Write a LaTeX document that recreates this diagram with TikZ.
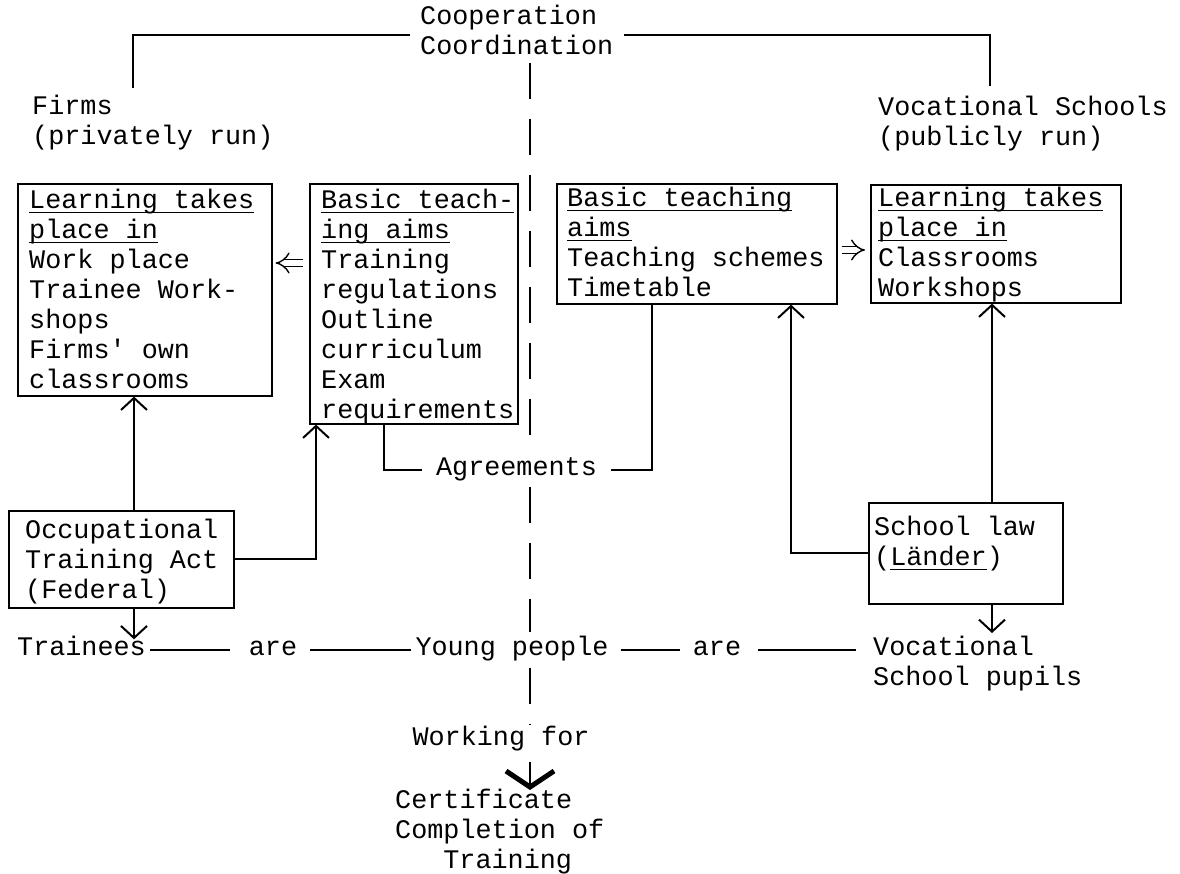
\documentclass[tikz,border=0pt]{standalone}
\usepackage{fontspec}
\setmainfont{Liberation Mono}
\usetikzlibrary{arrows.meta}
\newsavebox\ulbox
\newcommand\myul[1]{\sbox\ulbox{#1}\rlap{\rule[-5pt]{\wd\ulbox}{1.2pt}}\usebox\ulbox}
\newcommand\fs{\rule{0pt}{22pt}}
\newcommand\dfont{\fontsize{26.8pt}{30pt}\selectfont}
\begin{document}
\begin{tikzpicture}[x=1pt,y=-1pt,
 box/.style={draw,line width=1.6pt,inner sep=0pt,anchor=north west},
 txt/.style={inner sep=0pt,anchor=north west,align=left,font=\dfont},
 lbl/.style={inner sep=0pt,text height=16pt,text depth=5pt,font=\dfont},
 conn/.style={line width=2pt},
 arr/.style={conn,-{Straight Barb[length=12pt,width=26pt]}},
 dline/.style={line width=2pt,dash pattern=on 36pt off 20pt},
 dbl/.style={double,double distance=6pt,line width=1.4pt,-{Implies}}]
\path[use as bounding box,fill=white] (0,0) rectangle (1180,873);

% helper x positions
\coordinate (xa) at (134,0);
\coordinate (xb) at (316,0);
\coordinate (xc) at (384,0);
\coordinate (xd) at (530,0);
\coordinate (xe) at (652,0);
\coordinate (xf) at (791,0);
\coordinate (xg) at (992,0);
\coordinate (yl) at (0,263);
\coordinate (yr) at (0,250);

% top labels
\node[txt] (coop) at (420,2) {\fs Cooperation\\Coordination};
\node[txt] (firms) at (32,92) {\fs Firms\\(privately run)};
\node[txt] (vs) at (878,93) {\fs Vocational Schools\\(publicly run)};
\coordinate (cl) at (410,35);
\coordinate (cr) at (624,35);
\coordinate (fl) at (133,88);
\coordinate (fr) at (990,86);
\draw[conn] (cl) -| (fl);
\draw[conn] (cr) -| (fr);

% boxes
\node[box,minimum width=254pt,minimum height=212pt] (b1) at (17,183) {};
\node[box,minimum width=208pt,minimum height=240pt] (b2) at (309,183) {};
\node[box,minimum width=280pt,minimum height=120pt] (b3) at (556,183) {};
\node[box,minimum width=250pt,minimum height=118pt] (b4) at (870,184) {};
\node[box,minimum width=225pt,minimum height=97pt] (occ) at (8,510) {};
\node[box,minimum width=194pt,minimum height=101pt] (sl) at (868,502) {};

\node[txt] (t1) at (29,186) {\fs\myul{Learning takes}\\\myul{place in}\\Work place\\Trainee Work-\\shops\\Firms\textquotesingle{} own\\classrooms};
\node[txt] (t2) at (321,186) {\fs\myul{Basic teach-}\\\myul{ing aims}\\Training\\regulations\\Outline\\curriculum\\Exam\\requirements};
\node[txt] (t3) at (567,184) {\fs\myul{Basic teaching}\\\myul{aims}\\Teaching schemes\\Timetable};
\node[txt] (t4) at (878,184) {\fs\myul{Learning takes}\\\myul{place in}\\Classrooms\\Workshops};
\node[txt] (t5) at (25,516) {\fs Occupational\\Training Act\\(Federal)};
\node[txt] (t6) at (874,513) {\fs School law\\(\myul{Länder})};

% other labels
\node[lbl,inner xsep=14pt] (agr) at (516.5,470) {Agreements};
\node[lbl] (trainees) at (81.5,650) {Trainees};
\node[lbl] (are1) at (273,650) {are};
\node[lbl] (young) at (512,650) {Young people};
\node[lbl] (are2) at (717,650) {are};
\node[txt] (voc) at (873,633) {\fs Vocational\\School pupils};
\node[lbl] (working) at (501,740) {Working for};
\node[txt] (cert) at (395,786) {\fs Certificate\\Completion of\\\hspace*{48.2pt}Training};

% double arrows
\draw[dbl,shorten <=6pt,shorten >=3pt] (b2.west |- yl) -- (b1.east |- yl);
\draw[dbl,shorten <=4pt,shorten >=5pt] (b3.east |- yr) -- (b4.west |- yr);

% connectors
\draw[arr] (occ.north -| xa) -- (b1.south -| xa);
\draw[arr] (occ.east) -| (b2.south -| xb);
\draw[conn] (b2.south -| xc) |- (agr.west);
\draw[conn] (agr.east) -| (b3.south -| xe);
\draw[arr] (sl.west) -| (b3.south -| xf);
\draw[arr] (sl.north -| xg) -- (b4.south -| xg);
\draw[arr] (sl.south -| xg) -- (voc.north -| xg);
\draw[arr] (occ.south -| xa) -- (trainees.north -| xa);

% "are" line
\draw[conn,shorten <=4pt,shorten >=19pt] (trainees.east) -- (are1.west);
\draw[conn,shorten <=13pt,shorten >=4pt] (are1.east) -- (young.west);
\draw[conn,shorten <=12pt,shorten >=13pt] (young.east) -- (are2.west);
\draw[conn,shorten <=17pt,shorten >=17pt] (are2.east) -- (are2.east -| voc.west);

% dashed divider
\draw[dline,shorten <=8pt,shorten >=6pt] (coop.south -| xd) -- (agr.north -| xd);
\draw[dline,shorten <=6pt,shorten >=7pt] (agr.south -| xd) -- (young.north -| xd);
\draw[dline,shorten <=7pt,shorten >=5pt] (young.south -| xd) -- (working.north -| xd);
\draw[line width=2pt,shorten <=11pt,shorten >=-4pt,-{Straight Barb[length=16pt,width=48pt,line width=5pt]}] (working.south -| xd) -- (cert.north -| xd);
\end{tikzpicture}
\end{document}
